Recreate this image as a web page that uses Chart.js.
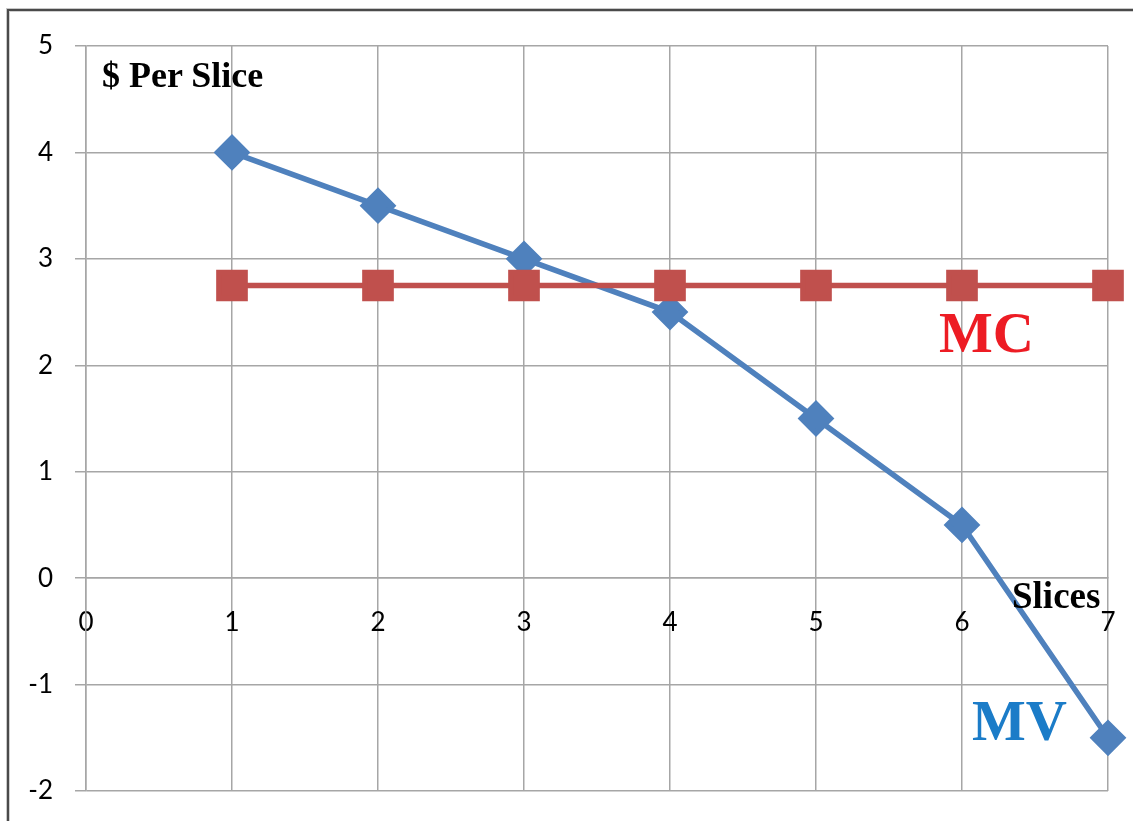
<!DOCTYPE html>
<html>
<head>
<meta charset="utf-8">
<script src="https://cdn.jsdelivr.net/npm/chart.js@4/dist/chart.umd.min.js"></script>
<style>
  html, body { margin: 0; padding: 0; background: #fff; overflow: hidden; }
  #wrap { position: relative; width: 1133px; height: 821px; }
  #frame { position: absolute; left: 7px; top: 9px; width: 2000px; height: 2000px;
           border-left: 2px solid #4a4a4a; border-top: 2px solid #4a4a4a;
           box-shadow: -1px -1px 0 #c8c8c8, inset 1px 1px 0 #d0d0d0; }
  canvas { position: absolute; left: 0; top: 0; }
  .lbl { position: absolute; font-family: "Liberation Serif", "Times New Roman", serif;
         font-weight: bold; line-height: 1; white-space: nowrap; }
</style>
</head>
<body>
<div id="wrap">
  <div id="frame"></div>
  <canvas id="c" width="1133" height="821"></canvas>
  <div class="lbl" style="left:102px; top:57px; font-size:36px; color:#000;">$ Per Slice</div>
  <div class="lbl" style="left:1012px; top:577px; font-size:37px; color:#000;">Slices</div>
  <div class="lbl" style="left:939px; top:304px; font-size:57px; color:#ed1c24;">MC</div>
  <div class="lbl" style="left:972px; top:692px; font-size:57px; color:#1b7cc8;">MV</div>
</div>
<script>
// Marginal value vs marginal cost per slice
const slices = [1, 2, 3, 4, 5, 6, 7];
const mv = [4, 3.5, 3, 2.5, 1.5, 0.5, -1.5];
const mc = [2.75, 2.75, 2.75, 2.75, 2.75, 2.75, 2.75];
const xTicks = [0, 1, 2, 3, 4, 5, 6, 7];
const yTicks = [-2, -1, 0, 1, 2, 3, 4, 5];

const pts = ys => slices.map((x, i) => ({ x, y: ys[i] }));
const gridColor = "#a6a6a6";
const tickFont = { family: "Lato, 'Open Sans', sans-serif", size: 26 };

new Chart(document.getElementById("c"), {
  type: "scatter",
  data: {
    datasets: [
      { label: "MC", data: pts(mc), showLine: true, borderColor: "#c0504d", backgroundColor: "#c0504d",
        borderWidth: 5.5, pointStyle: "rect", pointRadius: 18.5, pointHoverRadius: 18.5, clip: false },
      { label: "MV", data: pts(mv), showLine: true, borderColor: "#4f81bd", backgroundColor: "#4f81bd",
        borderWidth: 5.5, pointStyle: "rectRot", pointRadius: 14.5, pointHoverRadius: 14.5, clip: false },
    ],
  },
  options: {
    responsive: false, animation: false,
    layout: { autoPadding: false, padding: { top: 46, bottom: 30, left: 0, right: 25 } },
    plugins: { legend: { display: false }, tooltip: { enabled: false } },
    scales: {
      x: {
        type: "linear", position: { y: 0 }, min: 0, max: 7,
        afterBuildTicks: s => { s.ticks = xTicks.map(v => ({ value: v })); },
        // axis sits on y = 0, so it should take no room from the plot
        afterFit: s => { s.height = 0; s.paddingLeft = s.paddingRight = s.paddingTop = s.paddingBottom = 0; },
        grid: { color: gridColor, lineWidth: 1.5, tickLength: 0 },
        border: { color: gridColor, width: 1.5 },
        ticks: { color: "#000", font: tickFont, padding: 29, maxRotation: 0 },
      },
      y: {
        type: "linear", min: -2, max: 5,
        afterBuildTicks: s => { s.ticks = yTicks.map(v => ({ value: v })); },
        afterFit: s => { s.width = 86; s.paddingTop = s.paddingBottom = 0; },
        grid: { color: gridColor, lineWidth: 1.5, tickLength: 11 },
        border: { color: gridColor, width: 1.5 },
        ticks: { color: "#000", font: tickFont, padding: 22 },
      },
    },
  },
});
</script>
</body>
</html>
